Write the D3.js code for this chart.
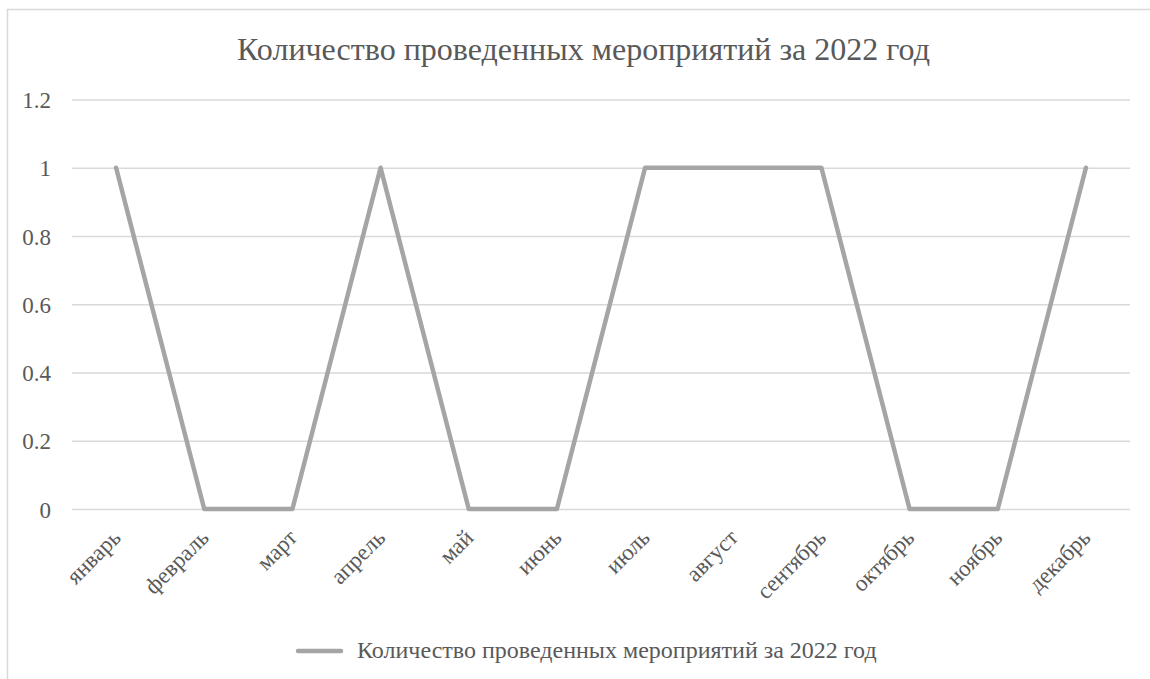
<!DOCTYPE html>
<html><head><meta charset="utf-8">
<script src="https://cdn.jsdelivr.net/npm/d3@7"></script>
<style>html,body{margin:0;padding:0;background:#fff;}svg{display:block;}
svg text{font-family:"Liberation Serif";}</style>
</head><body>
<script>
const title = "Количество проведенных мероприятий за 2022 год";
const seriesName = "Количество проведенных мероприятий за 2022 год";
const months = ["январь","февраль","март","апрель","май","июнь","июль","август","сентябрь","октябрь","ноябрь","декабрь"];
const values = [1,0,0,1,0,0,1,1,1,0,0,1];
const yTicks = [0,0.2,0.4,0.6,0.8,1,1.2];
const yTickLabels = ["0","0.2","0.4","0.6","0.8","1","1.2"];

(function(){
const W = 1150, H = 679;
const font = '"Liberation Serif"';
const svg = d3.select("body").append("svg").attr("width", W).attr("height", H);

svg.append("path").attr("d", `M7.5,${H} V9.5 H${W}`).attr("fill","none").attr("stroke","#d9d9d9").attr("stroke-width",1.5);

const pL = 72, pR = 1130, pT = 99.5, pB = 509;
const x = d3.scaleBand().domain(months).range([pL, pR]);
const y = d3.scaleLinear().domain([0, 1.2]).range([pB, pT]);

svg.append("text").attr("x", 583.5).attr("y", 60).attr("text-anchor","middle")
  .style("font-family", font).attr("font-size", 32).attr("fill","#595959").text(title);

const yAxis = d3.axisLeft(y).tickValues(yTicks).tickFormat((d,i)=>yTickLabels[i]).tickSize(-(pR-pL)).tickPadding(21);
const gy = svg.append("g").attr("transform", `translate(${pL},0)`).call(yAxis);
gy.attr("font-family", null);
gy.select(".domain").remove();
gy.selectAll(".tick line").attr("stroke","#d9d9d9").attr("stroke-width",1.5);
gy.selectAll(".tick text").style("font-family", font).attr("font-size", 23).attr("fill","#595959").attr("dy","0.35em");

const xAxis = d3.axisBottom(x).tickSize(0).tickPadding(0);
const gx = svg.append("g").attr("transform", `translate(0,${pB})`).call(xAxis);
gx.attr("font-family", null);
gx.select(".domain").remove();
gx.selectAll(".tick text").style("font-family", font).attr("font-size", 23).attr("fill","#595959")
  .attr("text-anchor","end").attr("dy", null).attr("y", 0)
  .attr("transform","translate(6,30) rotate(-45)");

const line = d3.line().x((d,i)=>x(months[i]) + x.bandwidth()/2).y(d=>y(d));
svg.append("path").datum(values).attr("d", line).attr("fill","none")
  .attr("stroke","#a5a5a5").attr("stroke-width",4.5).attr("stroke-linejoin","round").attr("stroke-linecap","round");

const lg = svg.append("g");
lg.append("line").attr("x1",298).attr("x2",341).attr("y1",651).attr("y2",651)
  .attr("stroke","#a5a5a5").attr("stroke-width",4.5).attr("stroke-linecap","round");
lg.append("text").attr("x",357).attr("y",658).style("font-family",font).attr("font-size",24).attr("fill","#595959").text(seriesName);
})();
</script>
</body></html>
